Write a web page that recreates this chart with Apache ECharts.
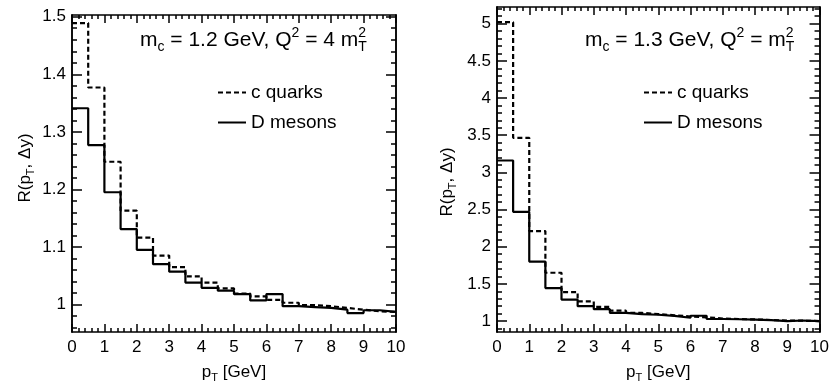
<!DOCTYPE html>
<html><head><meta charset="utf-8">
<script src="https://cdn.jsdelivr.net/npm/echarts@6/dist/echarts.min.js"></script>
<style>html,body{margin:0;padding:0;background:#fff}#c{width:832px;height:388px}</style>
</head><body><div id="c"></div>
<script>
// ---- data ----
const binEdges = [0,0.5,1,1.5,2,2.5,3,3.5,4,4.5,5,5.5,6,6.5,7,7.5,8,8.5,9,9.5,10];
const leftQuarks = [1.489,1.377,1.248,1.163,1.116,1.085,1.065,1.049,1.038,1.028,1.019,1.014,1.008,1.003,0.999,0.997,0.994,0.991,0.988,0.987];
const leftMesons = [1.341,1.277,1.195,1.131,1.095,1.070,1.057,1.038,1.029,1.024,1.018,1.007,1.018,0.997,0.9955,0.994,0.991,0.985,0.990,0.987];
const rightQuarks = [5.02,3.465,2.21,1.65,1.39,1.265,1.19,1.14,1.11,1.095,1.078,1.062,1.05,1.035,1.028,1.022,1.015,1.008,1.005,1.0];
const rightMesons = [3.16,2.47,1.80,1.444,1.29,1.20,1.16,1.11,1.093,1.085,1.07,1.045,1.072,1.028,1.025,1.02,1.013,1.0,1.008,1.0];
const leftYLabels = [1,1.1,1.2,1.3,1.4,1.5];
const rightYLabels = [1,1.5,2,2.5,3,3.5,4,4.5,5];
const seriesNames = ['c quarks','D mesons'];
const leftTitle = 'm{s|c} = 1.2 GeV, Q{p|2} = 4 m{q|2}{s|T}';
const rightTitle = 'm{s|c} = 1.3 GeV, Q{p|2} = m{q|2}{s|T}';
const xName = 'p{s|T} [GeV]';
const yName = 'R(p{s|T}, Δy)';

// ---- helpers ----
const FONT = "'Liberation Sans', Arial, Helvetica, sans-serif";
function steps(vals){
  const d = vals.map((v,i)=>[binEdges[i], v]);
  d.push([binEdges[binEdges.length-1], vals[vals.length-1]]);
  return d;
}
function minorVals(lo, hi, step, majors){
  const out=[];
  const n=Math.round((hi-lo)/step);
  for(let i=0;i<=n;i++){
    const v=+(lo+i*step).toFixed(4);
    if(!majors.some(m=>Math.abs(m-v)<1e-6)) out.push(v);
  }
  return out;
}
const subRich = { s:{fontSize:11, verticalAlign:'bottom', fontFamily:FONT, color:'#000'} };
function xAx(grid, pos, showLabel){
  return {type:'value', gridIndex:grid, position:pos, min:0, max:10, interval:1,
    axisLine:{show:true, onZero:false, lineStyle:{color:'#000', width:1.5}},
    axisTick:{show:true, inside:true, length:8, lineStyle:{color:'#000', width:1.5}},
    minorTick:{show:true, splitNumber:5, length:4, lineStyle:{color:'#000', width:1.5}},
    axisLabel:{show:showLabel, margin:7, color:'#000', fontSize:17, fontFamily:FONT},
    splitLine:{show:false},
    name: showLabel ? xName : '', nameLocation:'middle', nameGap:19,
    nameTextStyle:{fontSize:17, color:'#000', fontFamily:FONT, lineHeight:22, rich:subRich}
  };
}
function yAx(grid, pos, min, max, values, len, showLabel){
  return {type:'value', gridIndex:grid, position:pos, min:min, max:max, offset:0,
    axisLine:{show:true, onZero:false, lineStyle:{color:'#000', width:1.5}},
    axisTick:{show:true, inside:true, length:len, customValues:values, lineStyle:{color:'#000', width:1.5}},
    axisLabel:{show:showLabel, customValues:values, margin:6, color:'#000', fontSize:17, fontFamily:FONT},
    splitLine:{show:false}
  };
}
const LMIN=0.952, LMAX=1.503, RMIN=0.852, RMAX=5.224;
const leftMinor = minorVals(0.96, 1.50, 0.02, leftYLabels);
const rightMinor = minorVals(0.9, 5.2, 0.1, rightYLabels);

function ser(name, vals, xi, yi, dashed){
  return {name:name, type:'line', step:'end', xAxisIndex:xi, yAxisIndex:yi,
    data:steps(vals), symbol:'none', showSymbol:false, z: dashed?2:3,
    lineStyle:{color:'#000', width:2.2, type: dashed?[5,3]:'solid'},
    itemStyle:{color:'#000'}, animation:false};
}
const titleRich = {
  s:{fontSize:14, verticalAlign:'bottom', fontFamily:FONT, fill:'#000'},
  p:{fontSize:14, verticalAlign:'top', fontFamily:FONT, fill:'#000'},
  q:{fontSize:14, verticalAlign:'top', fontFamily:FONT, fill:'#000', width:0}
};
const yTitleRich = { s:{fontSize:11, verticalAlign:'bottom', fontFamily:FONT, fill:'#000'} };
function legendCfg(left){
  return {data:seriesNames, orient:'vertical', left:left, top:83, padding:0,
    itemWidth:28, itemHeight:12, itemGap:11, selectedMode:false,
    itemStyle:{color:'transparent', borderColor:'transparent', borderWidth:0, opacity:0},
    textStyle:{fontSize:19, color:'#000', fontFamily:FONT, lineHeight:19}};
}
function yTitle(x, y){
  return {type:'text', x:x, y:y, rotation:Math.PI/2,
    style:{text:yName, fontSize:17, fontFamily:FONT, fill:'#000', lineHeight:22,
      align:'center', verticalAlign:'middle', rich:yTitleRich}};
}

const option = {
  animation:false,
  backgroundColor:'#fff',
  grid:[
    {left:72, top:15, width:324, height:318},
    {left:497, top:7, width:326, height:326}
  ],
  xAxis:[ xAx(0,'bottom',true), xAx(0,'top',false), xAx(1,'bottom',true), xAx(1,'top',false) ],
  yAxis:[
    yAx(0,'left',LMIN,LMAX,leftYLabels,10,true),
    yAx(0,'left',LMIN,LMAX,leftMinor,5,false),
    yAx(0,'right',LMIN,LMAX,leftYLabels,10,false),
    yAx(0,'right',LMIN,LMAX,leftMinor,5,false),
    yAx(1,'left',RMIN,RMAX,rightYLabels,10,true),
    yAx(1,'left',RMIN,RMAX,rightMinor,5,false),
    yAx(1,'right',RMIN,RMAX,rightYLabels,10,false),
    yAx(1,'right',RMIN,RMAX,rightMinor,5,false)
  ],
  legend:[ legendCfg(217), legendCfg(643) ],
  graphic:[
    {type:'text', left:140, top:26, style:{text:leftTitle, fontSize:21, fontFamily:FONT, fill:'#000', lineHeight:28, rich:titleRich}},
    {type:'text', left:585, top:26, style:{text:rightTitle, fontSize:21, fontFamily:FONT, fill:'#000', lineHeight:28, rich:titleRich}},
    yTitle(25, 168),
    yTitle(447, 182)
  ],
  series:[
    ser(seriesNames[0], leftQuarks, 0, 0, true),
    ser(seriesNames[1], leftMesons, 0, 0, false),
    ser(seriesNames[0], rightQuarks, 2, 4, true),
    ser(seriesNames[1], rightMesons, 2, 4, false)
  ]
};
const chart = echarts.init(document.getElementById('c'), null, {renderer:'canvas'});
chart.setOption(option);
</script></body></html>
